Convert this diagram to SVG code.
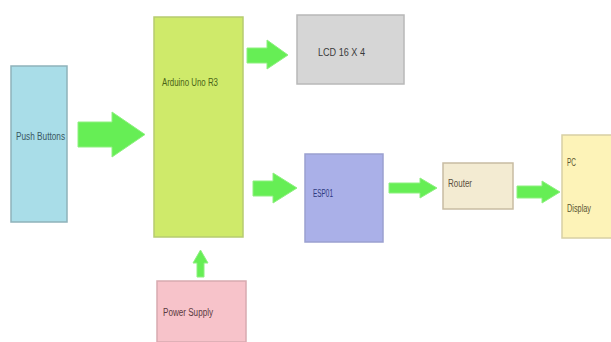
<svg xmlns="http://www.w3.org/2000/svg" width="611" height="342" viewBox="0 0 611 342">
<style>
.box{stroke-width:1.5}
.lbl{font-family:"Liberation Sans",Arial,sans-serif;font-size:10px}
.arr{fill:#66ee55;stroke:#8ef080;stroke-width:1}
</style>
<rect width="611" height="342" fill="#ffffff"/>
<g id="connectors">
<polygon class="arr" points="78,122 112,122 112,112 145,134.5 112,157 112,147 78,147"/>
<polygon class="arr" points="247,48 267,48 267,40 288,55 267,69 267,63 247,63"/>
<polygon class="arr" points="253,181 273,181 273,173 297,188 273,203 273,196 253,196"/>
<polygon class="arr" points="389,183 420,183 420,178 437,188 420,198 420,193 389,193"/>
<polygon class="arr" points="517,186 542,186 542,181 560,192 542,203 542,198 517,198"/>
<polygon class="arr" points="197,277 197,263 193,263 200.5,250 208,263 204,263 204,277"/>
</g>
<g id="push-buttons">
<rect class="box" x="11" y="66" width="56" height="156" fill="#a9dde8" stroke="#8fb2ba"/>
<text class="lbl" x="16" y="140" fill="#3a5862" textLength="49" lengthAdjust="spacingAndGlyphs">Push Buttons</text>
</g>
<g id="arduino">
<rect class="box" x="154" y="17" width="89" height="220" fill="#cfea6a" stroke="#b6cc70"/>
<text class="lbl" x="162" y="86" fill="#4a6418" textLength="56" lengthAdjust="spacingAndGlyphs">Arduino Uno R3</text>
</g>
<g id="lcd">
<rect class="box" x="297" y="15" width="107" height="69" fill="#d6d6d6" stroke="#b8b8b8"/>
<text class="lbl" x="318" y="56" fill="#3a3a3a" textLength="47" lengthAdjust="spacingAndGlyphs">LCD 16 X 4</text>
</g>
<g id="esp01">
<rect class="box" x="305" y="154" width="78" height="88" fill="#aab0e8" stroke="#9aa0d0"/>
<text class="lbl" x="313" y="197" fill="#2e3a80" textLength="20" lengthAdjust="spacingAndGlyphs">ESP01</text>
</g>
<g id="router">
<rect class="box" x="443" y="163" width="70" height="46" fill="#f3ebd2" stroke="#c8bca2"/>
<text class="lbl" x="448" y="187" fill="#5a5040" textLength="24" lengthAdjust="spacingAndGlyphs">Router</text>
</g>
<g id="pc-display">
<rect class="box" x="562" y="135" width="52" height="103" fill="#fdf3b8" stroke="#d8d0a4"/>
<text class="lbl" x="567" y="166" fill="#5a5430" textLength="9" lengthAdjust="spacingAndGlyphs">PC</text>
<text class="lbl" x="567" y="212" fill="#5a5430" textLength="24" lengthAdjust="spacingAndGlyphs">Display</text>
</g>
<g id="power-supply">
<rect class="box" x="157" y="281" width="89" height="61" fill="#f7c3ca" stroke="#d8aab0"/>
<text class="lbl" x="163" y="316" fill="#5a3a40" textLength="50" lengthAdjust="spacingAndGlyphs">Power Supply</text>
</g>
</svg>
